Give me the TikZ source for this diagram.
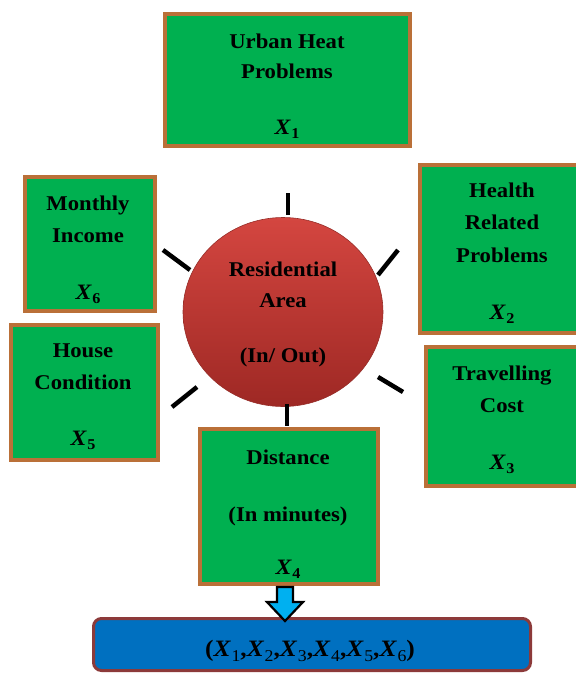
\documentclass[tikz,border=0pt]{standalone}
\usepackage{fontspec}
\setmainfont[FakeStretch=1.08]{Liberation Serif}
\usetikzlibrary{shapes.geometric}
\definecolor{boxgreen}{RGB}{0,176,80}
\definecolor{boxbrown}{RGB}{186,112,56}
\definecolor{areatop}{RGB}{212,70,64}
\definecolor{areabottom}{RGB}{158,40,36}
\definecolor{areaedge}{RGB}{150,45,40}
\definecolor{resblue}{RGB}{0,112,192}
\definecolor{resedge}{RGB}{140,58,58}
\definecolor{arrowblue}{RGB}{0,176,240}
% variable with subscript
\newcommand{\xvar}[1]{{\fontsize{22}{25}\selectfont\textit{X}}\kern0.5pt\raisebox{-4.5pt}{\fontsize{15}{15}\selectfont #1}}
\newcommand{\xvarbig}[1]{{\fontsize{23.5}{26}\selectfont\textit{X}}\kern0.5pt\raisebox{-5pt}{\fontsize{16.5}{16}\selectfont\mdseries #1}}
\begin{document}
\begin{tikzpicture}[x=1pt,y=-1pt,
  factor/.style 2 args={draw=boxbrown, line width=4pt, fill=boxgreen,
    rectangle, inner sep=0pt, minimum width=#1, minimum height=#2},
  lbl/.style={anchor=base, inner sep=0pt, font=\fontsize{21}{25}\selectfont\bfseries},
  tick/.style={line width=4.5pt, black}]
\useasboundingbox (0,0) rectangle (576,673);

% factor boxes
\node[factor={245}{132}] (x1) at (287.5,80) {};
\node[factor={168}{168}] (x2) at (504,249) {};
\node[factor={162}{139}] (x3) at (507,416.5) {};
\node[factor={178}{155}] (x4) at (289,506.5) {};
\node[factor={147}{135}] (x5) at (84.5,392.5) {};
\node[factor={130}{134}] (x6) at (90,244) {};

% central area
\node[ellipse, draw=areaedge, line width=0.6pt, top color=areatop,
  bottom color=areabottom, minimum width=200, minimum height=189,
  inner sep=0pt] (area) at (283,312) {};

% ticks around the area
\draw[tick] (288,193) -- (288,215);
\draw[tick] (163,250) -- (190,270);
\draw[tick] (172,407) -- (197,387);
\draw[tick] (287,404) -- (287,426);
\draw[tick] (378,275) -- (398,250);
\draw[tick] (378,377) -- (403,392);

% labels
\node[lbl] (t1a) at (287,48) {Urban Heat};
\node[lbl] (t1b) at (287,78) {Problems};
\node[lbl] (t1c) at (287,134) {\xvar{1}};

\node[lbl] (t6a) at (88,210) {Monthly};
\node[lbl] (t6b) at (88,242) {Income};
\node[lbl] (t6c) at (88,299) {\xvar{6}};

\node[lbl] (t5a) at (83,357) {House};
\node[lbl] (t5b) at (83,389) {Condition};
\node[lbl] (t5c) at (83,445) {\xvar{5}};

\node[lbl] (t2a) at (502,197) {Health};
\node[lbl] (t2b) at (502,229) {Related};
\node[lbl] (t2c) at (502,262) {Problems};
\node[lbl] (t2d) at (502,319) {\xvar{2}};

\node[lbl] (t3a) at (502,380) {Travelling};
\node[lbl] (t3b) at (502,412) {Cost};
\node[lbl] (t3c) at (502,469) {\xvar{3}};

\node[lbl] (t4a) at (288,464) {Distance};
\node[lbl] (t4b) at (288,521) {(In minutes)};
\node[lbl] (t4c) at (288,574) {\xvar{4}};

\node[lbl] (ta) at (283,276) {Residential};
\node[lbl] (tb) at (283,307) {Area};
\node[lbl] (tc) at (283,362) {(In/ Out)};

% result box
\node[draw=resedge, line width=3pt, fill=resblue, rounded corners=8pt,
  minimum width=437, minimum height=52, inner sep=0pt] (res) at (312,644.5) {};
\node[lbl, font=\fontsize{23.5}{26}\selectfont\bfseries] (tres) at (310,656)
  {(\xvarbig{1},\xvarbig{2},\xvarbig{3},\xvarbig{4},\xvarbig{5},\xvarbig{6})};

% block arrow from distance box down to result box
\coordinate (atop) at (x4.south -| 285,0);
\draw[line width=2.2pt, fill=arrowblue, line join=miter]
  (atop) ++(-8,1) -- ++(16,0) -- ++(0,15) -- ++(10,0) -- ++(-18,19)
  -- ++(-18,-19) -- ++(10,0) -- cycle;
\end{tikzpicture}
\end{document}
